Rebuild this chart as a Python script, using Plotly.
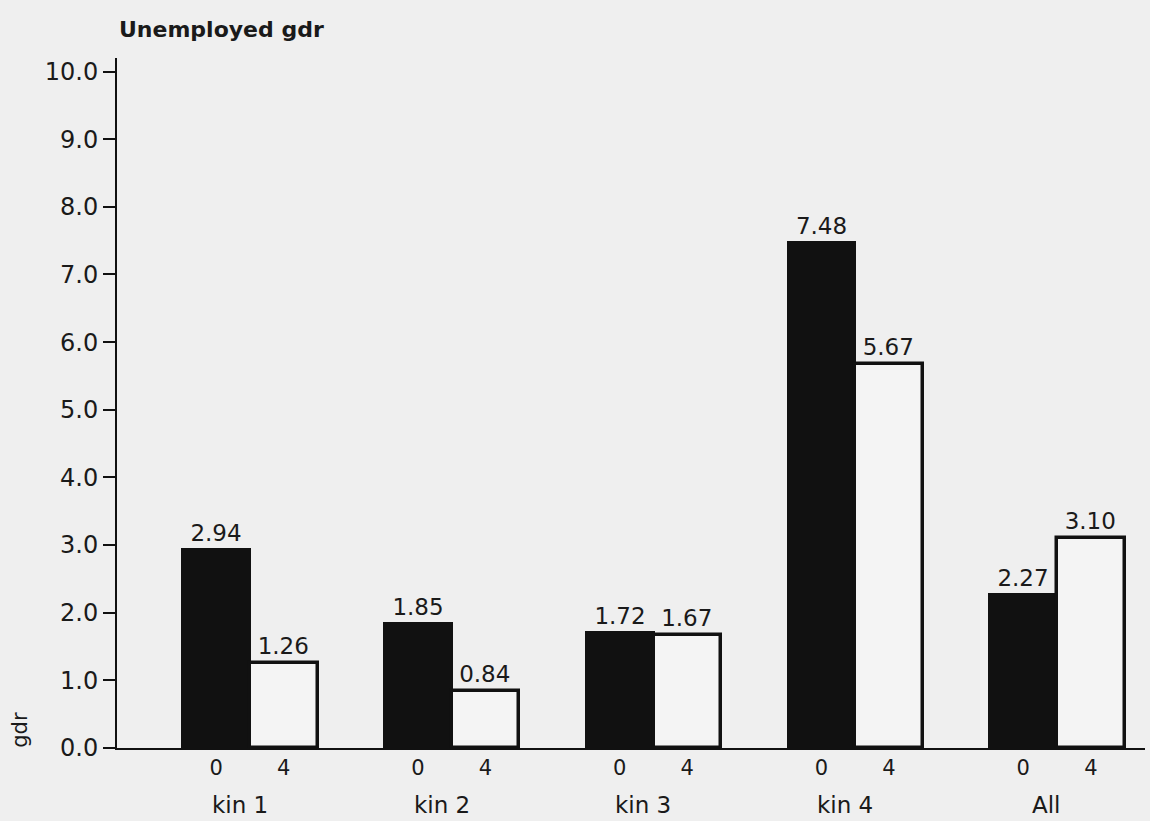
import plotly.graph_objects as go

categories = ["kin 1", "kin 2", "kin 3", "kin 4", "All"]
sub_labels = ["0", "4"]
values_0 = [2.94, 1.85, 1.72, 7.48, 2.27]
values_4 = [1.26, 0.84, 1.67, 5.67, 3.10]
y_ticks = [0, 1, 2, 3, 4, 5, 6, 7, 8, 9, 10]

FONT = "DejaVu Sans, Liberation Sans, sans-serif"
INK = "#1a1a1a"
half = 0.1675
width = 0.335
xs = list(range(len(categories)))

fig = go.Figure()
fig.add_trace(go.Bar(
    x=[i - half for i in xs], y=values_0, width=width,
    marker=dict(color="#111111", line=dict(color="#111111", width=2)),
    text=[f"{v:.2f}" for v in values_0], textposition="outside",
    textfont=dict(family=FONT, size=23, color=INK), cliponaxis=False,
    showlegend=False,
))
fig.add_trace(go.Bar(
    x=[i + half for i in xs], y=values_4, width=width,
    marker=dict(color="#f4f4f4", line=dict(color="#111111", width=3.5)),
    text=[f"{v:.2f}" for v in values_4], textposition="outside",
    textfont=dict(family=FONT, size=23, color=INK), cliponaxis=False,
    showlegend=False,
))

tickvals = []
ticktext = []
for i in xs:
    tickvals += [i - half, i + half]
    ticktext += sub_labels

for i, c in zip(xs, categories):
    fig.add_annotation(x=i - 0.05, y=0, xref="x", yref="paper", yshift=-42,
                       text=c, showarrow=False, yanchor="top",
                       font=dict(family=FONT, size=23, color=INK))

fig.add_annotation(x=0, y=1, xref="paper", yref="paper", xanchor="left", yanchor="bottom",
                   yshift=14, text="<b>Unemployed gdr</b>", showarrow=False,
                   font=dict(family=FONT, size=22, color=INK))

fig.add_annotation(x=0, y=0.27, xref="paper", yref="y", xanchor="center", yanchor="middle",
                   xshift=-97, text="gdr", textangle=-90, showarrow=False,
                   font=dict(family=FONT, size=21, color=INK))

fig.update_layout(
    width=1150, height=821,
    margin=dict(l=117, r=5, t=58, b=73),
    paper_bgcolor="#efefef", plot_bgcolor="#efefef",
    barmode="overlay", bargap=0,
    xaxis=dict(range=[-0.659, 4.436], tickvals=tickvals, ticktext=ticktext,
               showgrid=False, zeroline=False, showline=True, linecolor="#111",
               linewidth=2, ticks="", ticklen=0,
               tickfont=dict(family=FONT, size=21, color=INK)),
    yaxis=dict(range=[0, 10.2], tickvals=y_ticks, tickformat=".1f",
               showgrid=False, zeroline=False, showline=True, linecolor="#111",
               linewidth=2, ticks="outside", ticklen=12, tickwidth=2, tickcolor="#111",
               tickfont=dict(family=FONT, size=24, color=INK)),
)

fig.write_html("out.html", config={"displayModeBar": False},
               post_script="document.body.style.margin='0';document.body.style.background='#efefef';")
